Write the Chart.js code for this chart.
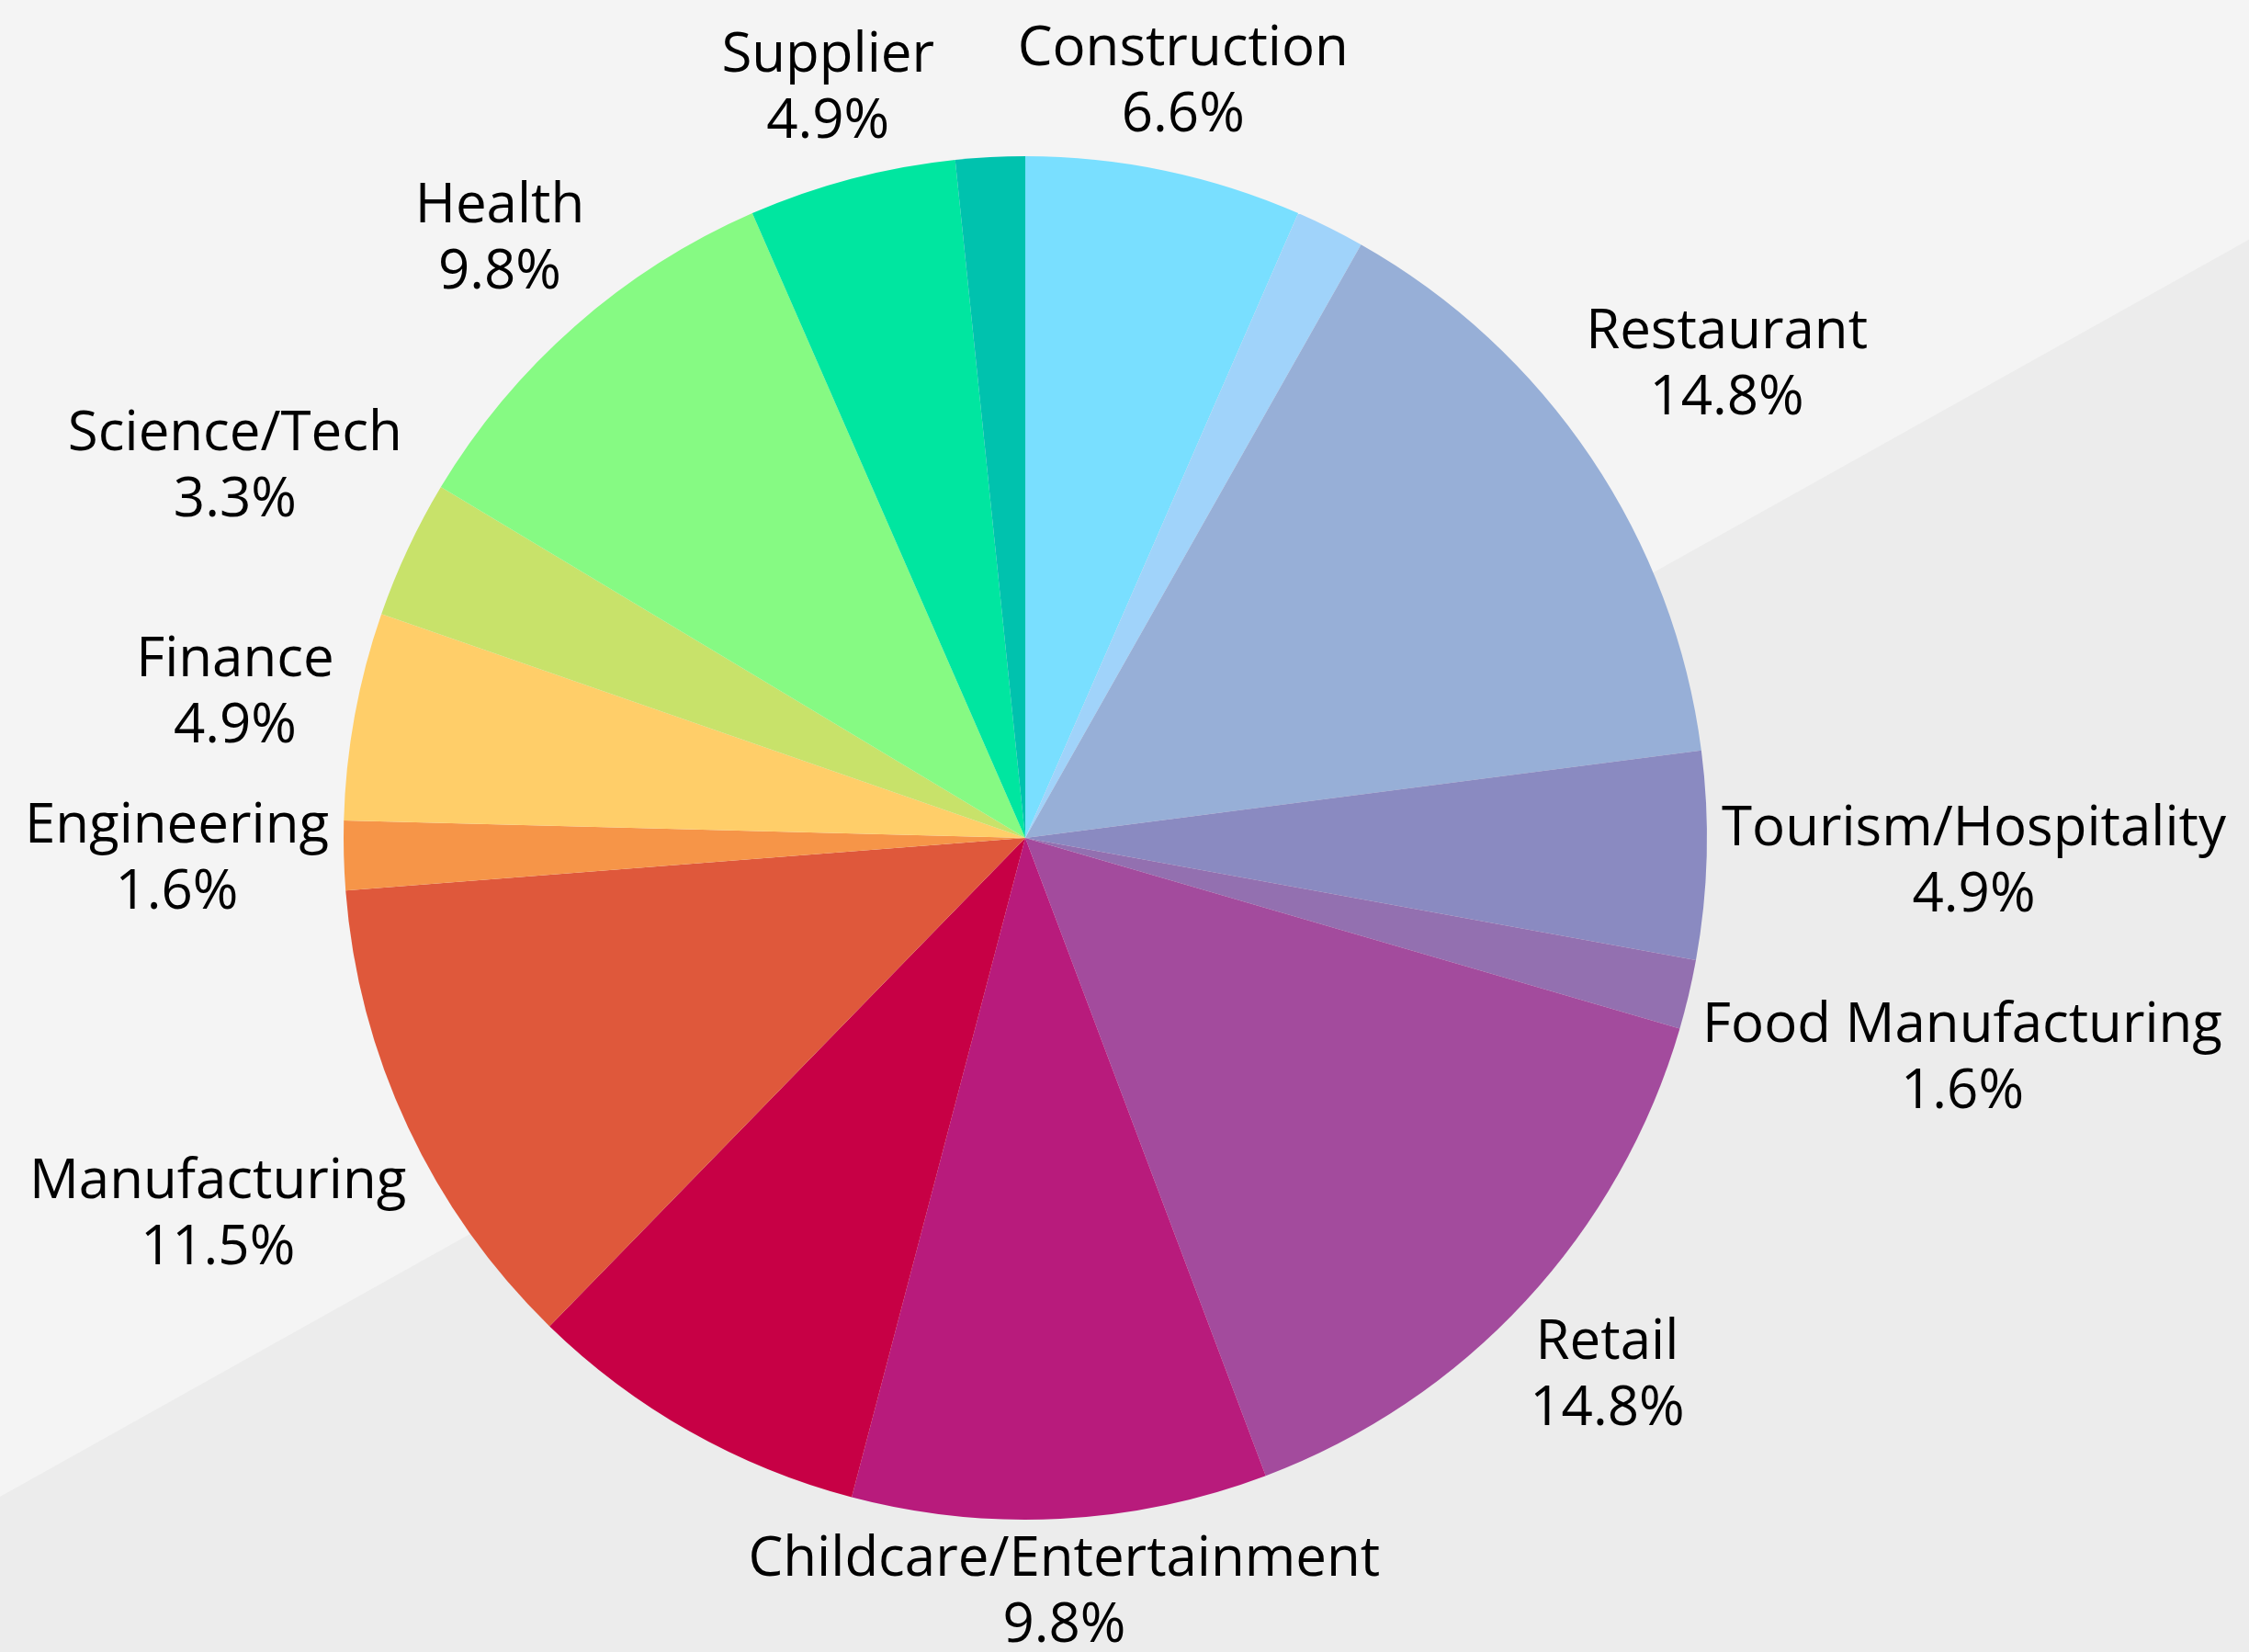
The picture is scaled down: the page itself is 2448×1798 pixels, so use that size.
<!DOCTYPE html>
<html>
<head>
<meta charset="utf-8">
<script src="https://cdn.jsdelivr.net/npm/chart.js@4.4.1/dist/chart.umd.min.js"></script>
<style>
  html, body { margin: 0; padding: 0; background: #F4F4F4; }
  #wrap { width: 2448px; height: 1798px; position: relative; }
</style>
</head>
<body>
<div id="wrap"><canvas id="grafico"></canvas></div>
<script>
// Fatias em sentido horário a partir do topo (contagens; percentuais saem de valor/total)
const categorias = ['Construction', '', 'Restaurant', 'Tourism/Hospitality', 'Food Manufacturing', 'Retail',
  'Childcare/Entertainment', '', 'Manufacturing', 'Engineering', 'Finance', 'Science/Tech', 'Health', 'Supplier', ''];
const valores = [4, 1, 9, 3, 1, 9, 6, 5, 7, 1, 3, 2, 6, 3, 1];
const cores = ['#79DFFF', '#A0D3FA', '#97AFD7', '#8A8AC1', '#9370B0', '#A34B9D',
  '#B81B7C', '#C70045', '#DF583B', '#F69548', '#FFCE69', '#C8E26A', '#86FA83', '#00E6A0', '#00C2AE'];

const FONTE = '60px "Open Sans", "Noto Sans", sans-serif';
const ALTURA_LINHA = 72;

// fundo com faixa diagonal mais escura embaixo
const fundo = {
  id: 'fundo',
  beforeDraw(chart) {
    const { ctx, width, height } = chart;
    ctx.save();
    ctx.fillStyle = '#F4F4F4';
    ctx.fillRect(0, 0, width, height);
    ctx.fillStyle = '#ECECEC';
    ctx.beginPath();
    ctx.moveTo(0, height * 0.906);
    ctx.lineTo(width, height * 0.145);
    ctx.lineTo(width, height);
    ctx.lineTo(0, height);
    ctx.closePath();
    ctx.fill();
    ctx.restore();
  },
};

// distância do centro do gráfico até o ponto mais próximo da caixa do texto
function distCaixa(t, vx, vy, hw, hh) {
  const px = Math.max(Math.abs(t * vx) - hw, 0);
  const py = Math.max(Math.abs(t * vy) - hh, 0);
  return Math.hypot(px, py);
}

// rótulos externos: caixa no ângulo médio, afastada até ficar toda fora do círculo (raio + folga)
const rotulos = {
  id: 'rotulos',
  afterDatasetsDraw(chart) {
    const { ctx } = chart;
    const meta = chart.getDatasetMeta(0);
    const total = valores.reduce((a, b) => a + b, 0);
    const folga = 16;
    ctx.save();
    ctx.font = FONTE;
    ctx.fillStyle = '#000';
    ctx.textAlign = 'center';
    ctx.textBaseline = 'middle';
    meta.data.forEach((arc, i) => {
      if (!categorias[i]) return;
      const { x, y, startAngle, endAngle, outerRadius } = arc.getProps(['x', 'y', 'startAngle', 'endAngle', 'outerRadius'], true);
      const meio = (startAngle + endAngle) / 2;
      const vx = Math.cos(meio), vy = Math.sin(meio);
      const linhas = [categorias[i], (valores[i] / total * 100).toFixed(1) + '%'];
      const hw = Math.max(...linhas.map((l) => ctx.measureText(l).width)) / 2;
      const hh = linhas.length * ALTURA_LINHA / 2 - 8;
      const alvo = outerRadius + folga;
      let lo = 0, hi = outerRadius * 3;
      for (let k = 0; k < 60; k++) {
        const m = (lo + hi) / 2;
        if (distCaixa(m, vx, vy, hw, hh) < alvo) lo = m; else hi = m;
      }
      const cx = x + vx * hi, cy = y + vy * hi;
      linhas.forEach((l, k) => {
        ctx.fillText(l, cx, cy + (k - (linhas.length - 1) / 2) * ALTURA_LINHA);
      });
    });
    ctx.restore();
  },
};

new Chart(document.getElementById('grafico'), {
  type: 'pie',
  data: {
    labels: categorias,
    datasets: [{ data: valores, backgroundColor: cores, borderWidth: 0, hoverOffset: 0, hoverBorderWidth: 0 }],
  },
  options: {
    responsive: true, maintainAspectRatio: false, animation: false,
    layout: { padding: { left: 374, right: 590, top: 170, bottom: 144 } },
    plugins: { legend: { display: false }, tooltip: { enabled: false } },
  },
  plugins: [fundo, rotulos],
});
</script>
</body>
</html>
